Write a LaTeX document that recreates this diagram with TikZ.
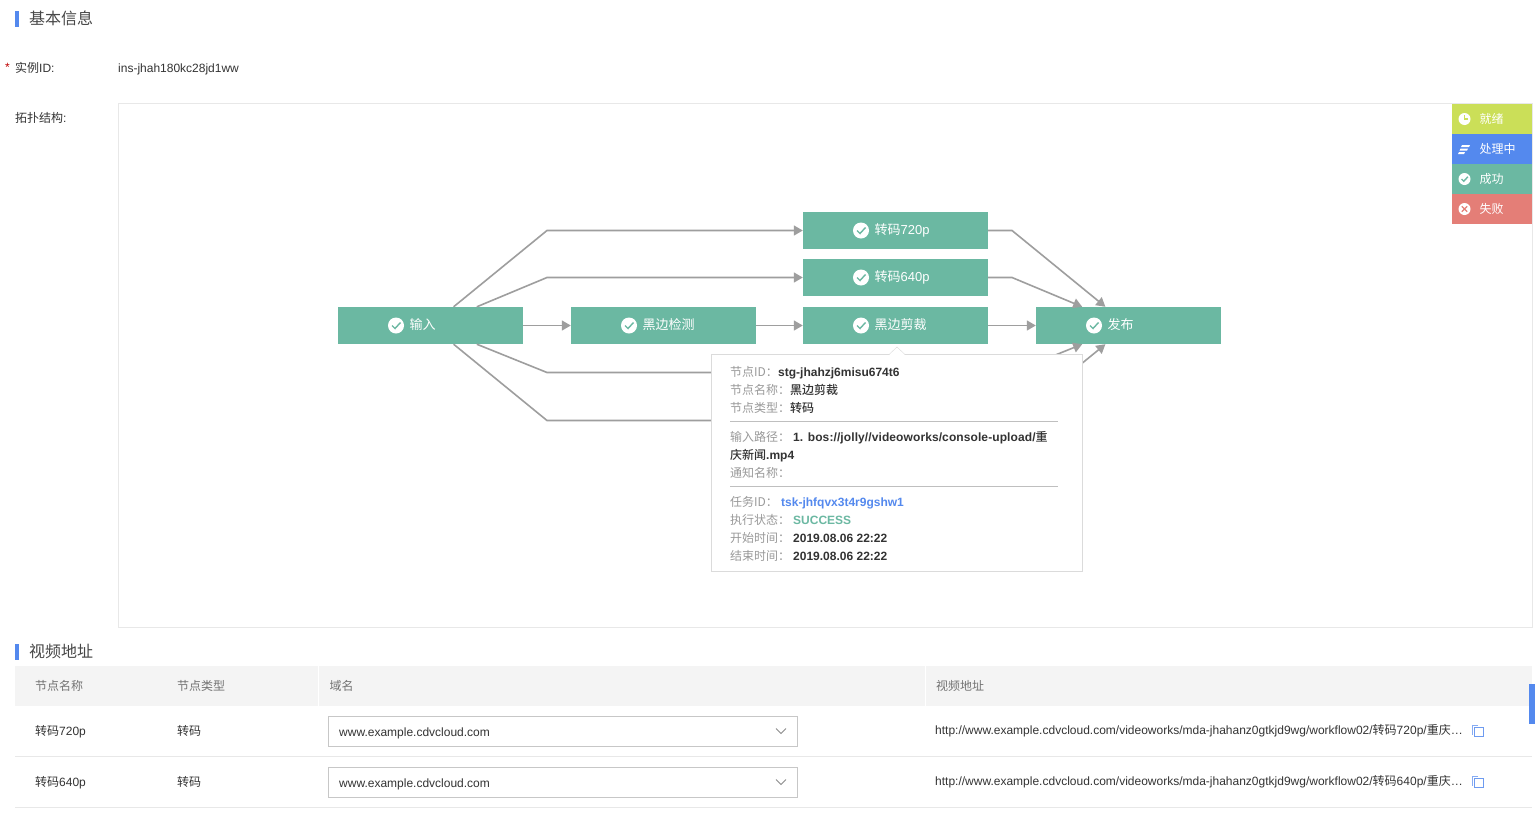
\documentclass[tikz,border=0pt]{standalone}
\usepackage{fontspec}
\setmainfont{Liberation Sans}
\newfontfamily\cjk[BoldFont={Noto Sans CJK SC Medium}]{Noto Sans CJK SC}
\newcommand{\zh}[1]{{\cjk #1}}
\usetikzlibrary{calc}
\usetikzlibrary{arrows.meta}
\definecolor{stagegreen}{RGB}{107,184,162}
\definecolor{statelime}{RGB}{203,223,88}
\definecolor{stateblue}{RGB}{84,137,238}
\definecolor{statered}{RGB}{228,126,119}
\definecolor{panelline}{RGB}{232,232,232}
\definecolor{headfill}{RGB}{244,244,244}
\definecolor{flowgray}{RGB}{158,158,158}
\definecolor{textdark}{RGB}{51,51,51}
\definecolor{textmute}{RGB}{153,153,153}
\tikzset{
    plain/.style={anchor=west, inner sep=0pt, text height=11pt, text depth=1pt, text=textdark, font=\fontsize{12}{14}\selectfont},
    mute/.style={plain, text=textmute},
    strong/.style={plain, font=\fontsize{12}{14}\selectfont\bfseries},
    heading/.style={plain, text height=14pt, text depth=2pt, text=textdark!90, font=\fontsize{16}{18}\selectfont},
    stagebox/.style={fill=stagegreen, minimum width=185pt, minimum height=37pt, inner sep=0pt},
    stagetext/.style={plain, text=white},
    stagelabel/.style={stagetext, font=\fontsize{13}{15}\selectfont},
    statebox/.style={minimum width=80pt, minimum height=30pt, inner sep=0pt},
    flowline/.style={draw=flowgray, line width=1.6pt, -{Triangle[length=9pt,width=10pt]}},
    selectbox/.style={draw=black!22, line width=0.8pt, fill=white, minimum width=469pt, minimum height=30pt, inner sep=0pt},
    okicon/.pic={
        \fill[white] (0,0) circle (8);
        \draw[pic actions, line width=1.4pt] (-4,0) -- (-1,3) -- (4.5,-3);
    },
}
\begin{document}
\begin{tikzpicture}[x=1pt,y=-1pt]
    \useasboundingbox[fill=white] (0,0) rectangle (1535,812);

    % Basic info
    \fill[stateblue] (15,11) rectangle (19,27);
    \node[heading] (titlebasic) at (29,18) {\zh{基本信息}};
    \node[plain, text=red!75!black, font=\fontsize{12}{14}\selectfont] (required) at (5,66) {*};
    \node[plain] (lblinst) at (15,67.5) {\zh{实例}ID:};
    \node[plain] (valinst) at (118,67.5) {ins-jhah180kc28jd1ww};
    \node[plain] (lbltopo) at (15,117.5) {\zh{拓扑结构}:};
    \draw[panelline] (118.5,103.5) rectangle (1532.5,627.5);

    % State legend
    \foreach \nm/\cy/\col/\txt in {ready/119/statelime/就绪, running/149/stateblue/处理中, done/179/stagegreen/成功, failed/209/statered/失败} {
        \node[statebox, fill=\col] (\nm) at (1492,\cy) {};
        \node[stagetext] (\nm-t) at (1479.5,\cy-1) {\zh{\txt}};
    }
    \fill[white] (1464.5,119) circle (6);
    \draw[statelime, line width=1.2pt] (1464.5,115) -- (1464.5,119) -- (1468,119);
    \fill[white] (1462,145) -- (1470,145) -- (1469,147) -- (1461,147) -- cycle;
    \fill[white] (1460.5,148.5) -- (1468,148.5) -- (1467,150.5) -- (1459.5,150.5) -- cycle;
    \fill[white] (1459,152) -- (1465,152) -- (1464,154) -- (1458,154) -- cycle;
    \pic[draw=stagegreen, scale=0.75] at (1464.5,179) {okicon};
    \fill[white] (1464.5,209) circle (6);
    \draw[statered, line width=1.1pt] (1461.8,206.3) -- (1467.2,211.7) (1467.2,206.3) -- (1461.8,211.7);

    % Stages
    \foreach \nm/\cx/\cy/\txt in {input/430.5/325.5/{\zh{输入}}, detect/663.5/325.5/{\zh{黑边检测}}, crop/895.5/325.5/{\zh{黑边剪裁}}, publish/1128.5/325.5/{\zh{发布}}, sa/895.5/230.5/{\zh{转码}720p}, sb/895.5/277.5/{\zh{转码}640p}} {
        \node[stagebox] (\nm) at (\cx,\cy) {};
        \pic[draw=stagegreen] at ($(\nm.center)+(-34.5,0)$) {okicon};
        \node[stagelabel] (\nm-l) at (\cx-21,\cy-1.5) {\txt};
    }
    \node[stagebox] (sc) at (895.5,372.5) {};
    \node[stagebox] (sd) at (895.5,420.5) {};

    % Connectors
    \coordinate (ba) at (547,230.5);
    \coordinate (bb) at (547,277.5);
    \coordinate (bc) at (547,372.5);
    \coordinate (bd) at (547,420.5);
    \coordinate (ea) at (1012,230.5);
    \coordinate (eb) at (1012,277.5);
    \coordinate (ec) at (1012,372.5);
    \coordinate (ed) at (1012,420.5);
    \draw[flowline] (input.39) -- (ba) -- (sa.west);
    \draw[flowline] (input.22) -- (bb) -- (sb.west);
    \draw[flowline] (input.-22) -- (bc) -- (sc.west);
    \draw[flowline] (input.-39) -- (bd) -- (sd.west);
    \draw[flowline] (input.east) -- (detect.west);
    \draw[flowline] (detect.east) -- (crop.west);
    \draw[flowline] (crop.east) -- (publish.west);
    \draw[flowline] (sa.east) -- (ea) -- (publish.141);
    \draw[flowline] (sb.east) -- (eb) -- (publish.158);
    \draw[flowline] (sc.east) -- (ec) -- (publish.-158);
    \draw[flowline] (sd.east) -- (ed) -- (publish.-141);

    % Detail popup
    \draw[black!14, fill=white] (711.5,354.5) rectangle (1082.5,571.5);
    \fill[white] (889,355) -- (897,347) -- (905,355) -- cycle;
    \draw[black!14] (889,354.5) -- (897,347) -- (905,354.5);
    \foreach \nm/\cy/\txt in {pa/371.5/节点ID：, pb/389.5/节点名称：, pc/407.5/节点类型：, pd/436.5/输入路径：, pf/472.5/通知名称：, pg/501.5/任务ID：, ph/519.5/执行状态：, pi/537.5/开始时间：, pj/555.5/结束时间：} {
        \node[mute] (\nm) at (730,\cy) {\zh{\txt}};
    }
    \node[strong] (va) at (778,371.5) {stg-jhahzj6misu674t6};
    \node[strong] (vb) at (790,389.5) {\zh{黑边剪裁}};
    \node[strong] (vc) at (790,407.5) {\zh{转码}};
    \node[strong] (vd) at (793,436.5) {{\addfontfeature{LetterSpace=0.8}1. bos://jolly//videoworks/console-upload/}\zh{重}};
    \node[strong] (ve) at (730,454.5) {\zh{庆新闻}.mp4};
    \node[strong, text=stateblue] (vg) at (781,501.5) {tsk-jhfqvx3t4r9gshw1};
    \node[strong, text=stagegreen] (vh) at (793,519.5) {SUCCESS};
    \node[strong] (vi) at (793,537.5) {2019.08.06 22:22};
    \node[strong] (vj) at (793,555.5) {2019.08.06 22:22};
    \draw[black!25] (730,421.5) -- (1058,421.5);
    \draw[black!25] (730,486.5) -- (1058,486.5);

    % Video table
    \fill[stateblue] (15,644) rectangle (19,660);
    \node[heading] (titlevideo) at (29,651.5) {\zh{视频地址}};
    \fill[headfill] (15,666) rectangle (1532,706);
    \draw[white] (318.5,666) -- (318.5,706);
    \draw[white] (925.5,666) -- (925.5,706);
    \node[mute, text=black!55] (hname) at (35,685) {\zh{节点名称}};
    \node[mute, text=black!55] (htype) at (177,685) {\zh{节点类型}};
    \node[mute, text=black!55] (hdomain) at (329.5,685) {\zh{域名}};
    \node[mute, text=black!55] (hurl) at (936,685) {\zh{视频地址}};
    \foreach \nm/\cy/\res in {ra/731/720, rb/782/640} {
        \draw[panelline] (15,\cy+25.5) -- (1532,\cy+25.5);
        \node[plain] (\nm-name) at (35,\cy-0.5) {\zh{转码}\res p};
        \node[plain] (\nm-type) at (177,\cy-0.5) {\zh{转码}};
        \node[selectbox] (\nm-sel) at (563,\cy) {};
        \node[plain] (\nm-dom) at (339,\cy+0.5) {www.example.cdvcloud.com};
        \draw[black!45, line width=0.9pt] (776,\cy-2.5) -- (781,\cy+2.5) -- (786,\cy-2.5);
        \node[plain] (\nm-url) at (935,\cy-1.5) {http://www.example.cdvcloud.com/videoworks/mda-jhahanz0gtkjd9wg/workflow02/\zh{转码}\res p/\zh{重庆}…};
        \draw[stateblue!70, line width=1pt] (1478,\cy-5.5) -- (1472.5,\cy-5.5) -- (1472.5,\cy+4);
        \draw[stateblue!85, line width=1.2pt, fill=white] (1474.5,\cy-3.5) rectangle (1483.5,\cy+5.5);
    }
    \fill[stateblue] (1529,684) rectangle (1535,724);
\end{tikzpicture}
\end{document}
